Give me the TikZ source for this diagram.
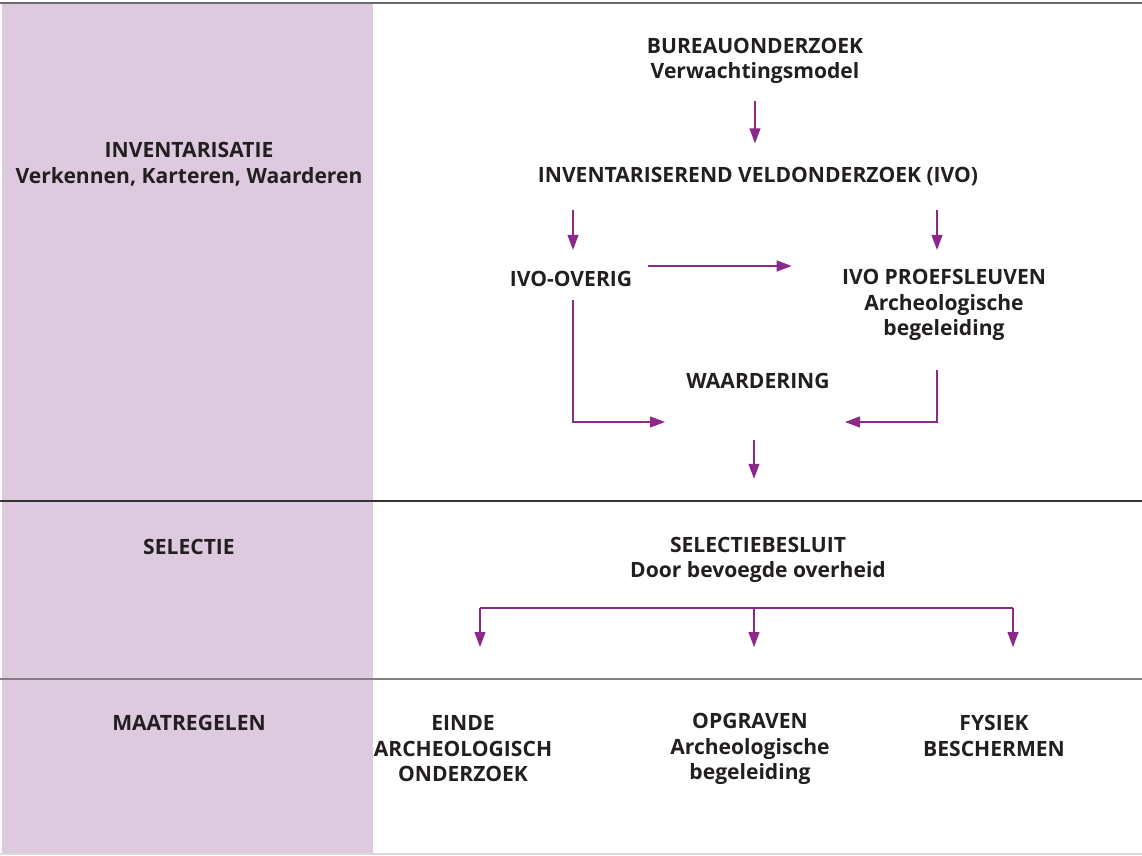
\documentclass[tikz,border=0pt]{standalone}
\usepackage{fontspec}
\setmainfont{Open Sans}
\definecolor{BandLila}{RGB}{221,202,223}
\definecolor{FlowPurple}{RGB}{139,40,137}
\definecolor{TextDark}{RGB}{35,31,32}
\usetikzlibrary{arrows.meta,calc}

\begin{document}
\begin{tikzpicture}[x=0.02cm,y=-0.02cm,
    every node/.style={text=TextDark,font=\bfseries\fontsize{12}{14.5}\selectfont},
    head/.style={inner sep=0pt,align=center},
    side/.style={inner sep=0pt,align=center},
    line/.style={FlowPurple,line width=0.6pt},
    arr/.style={line,-{Triangle[length=3mm,width=2.2mm]}}]
    \useasboundingbox (0,0) rectangle (1142,855);
    % left band and rules
    \fill[BandLila] (2,3) rectangle (373,853);
    \draw[line width=1.1pt,gray!85!black] (0,3) -- (1142,3);
    \draw[line width=1.1pt,black!80] (0,501) -- (1142,501);
    \draw[line width=1pt,gray] (0,679) -- (1142,679);
    \draw[line width=0.8pt,black!15] (0,854) -- (1142,854);
    % phase labels
    \node[side] (inv) at (189,164) {INVENTARISATIE\\Verkennen, Karteren, Waarderen};
    \node[side] (sel) at (189,547) {SELECTIE};
    \node[side] (maat) at (189,723) {MAATREGELEN};
    % flow
    \node[head] (bureau) at (755,61) {BUREAUONDERZOEK\\Verwachtingsmodel};
    \node[head] (ivo) at (758,177) {INVENTARISEREND VELDONDERZOEK (IVO)};
    \node[head] (overig) at (571,279) {IVO-OVERIG};
    \node[head] (proef) at (944,305) {IVO PROEFSLEUVEN\\Archeologische\\begeleiding};
    \node[head] (waard) at (758,381) {WAARDERING};
    \node[head] (besluit) at (758,560) {SELECTIEBESLUIT\\Door bevoegde overheid};
    \node[head] (einde) at (463,749) {EINDE\\ARCHEOLOGISCH\\ONDERZOEK};
    \node[head] (opgr) at (750,749) {OPGRAVEN\\Archeologische\\begeleiding};
    \node[head] (fysiek) at (994,736) {FYSIEK\\BESCHERMEN};
    \coordinate (mergeL) at (665,422);
    \coordinate (mergeR) at (845,422);
    \coordinate (split) at (754,608);
    \coordinate (tipL) at (480,647);
    \coordinate (tipM) at (754,647);
    \coordinate (tipR) at (1013,647);
    \draw[arr,shorten <=0.34cm,shorten >=0.48cm] (bureau.south) -- (bureau.south |- ivo.north);
    \draw[arr,shorten <=0.46cm,shorten >=0.42cm] ([xshift=0.04cm]ivo.south -| overig.north) -- ([xshift=0.04cm]overig.north);
    \draw[arr,shorten <=0.46cm,shorten >=0.42cm] ([xshift=-0.14cm]ivo.south -| proef.north) -- ([xshift=-0.14cm]proef.north |- overig.north);
    \draw[arr,shorten <=0.3cm,shorten >=1.0cm] ([yshift=0.26cm]overig.east) -- ([yshift=0.26cm]overig.east -| proef.west);
    \draw[arr,shorten <=0.26cm] ([xshift=0.04cm]overig.south) |- (mergeL);
    \draw[arr,shorten <=0.58cm] ([xshift=-0.14cm]proef.south) |- (mergeR);
    \draw[arr,shorten <=1.02cm,shorten >=1.16cm] (waard.south -| split) -- (besluit.north -| split);
    \draw[line] (tipL |- split) -- (tipR |- split);
    \draw[arr] (tipL |- split) -- (tipL);
    \draw[arr] (split) -- (tipM);
    \draw[arr] (tipR |- split) -- (tipR);
\end{tikzpicture}
\end{document}
